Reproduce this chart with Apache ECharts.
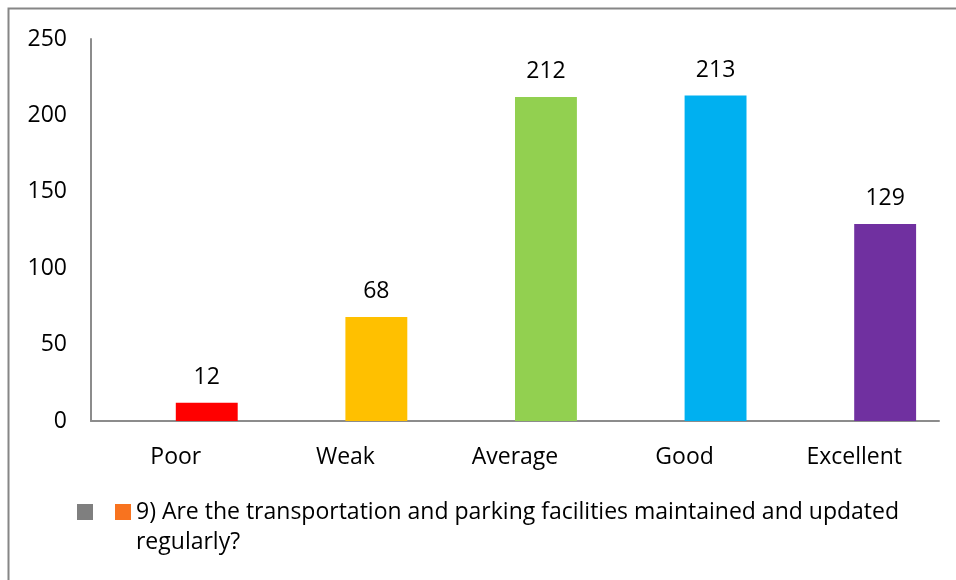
<!DOCTYPE html>
<html><head><meta charset="utf-8">
<script src="https://cdn.jsdelivr.net/npm/echarts@6/dist/echarts.min.js"></script>
<style>html,body{margin:0;padding:0;background:#fff}#c{width:956px;height:580px}</style>
</head><body><div id="c"></div>
<script>
const categories = ['Poor', 'Weak', 'Average', 'Good', 'Excellent'];
const values = [12, 68, 212, 213, 129];
const barColors = ['#FF0000', '#FFC000', '#92D050', '#00B0F0', '#7030A0'];
const seriesName = '9) Are the transportation and parking facilities maintained and updated regularly?';
const yTicks = { min: 0, max: 250, interval: 50 };

const FONT = 'Open Sans';
const FS = 23;
const chart = echarts.init(document.getElementById('c'));
chart.setOption({
  animation: false,
  textStyle: { fontFamily: FONT },
  graphic: [{
    type: 'rect', shape: { x: 8.5, y: 8.5, width: 1200, height: 1200 },
    style: { fill: 'none', stroke: '#868686', lineWidth: 2 }, silent: true
  }],
  grid: { left: 91, right: 17, top: 39, bottom: 159, containLabel: false },
  xAxis: {
    type: 'category', data: categories,
    axisLine: { lineStyle: { color: '#8c8c8c', width: 2 } },
    axisTick: { show: false },
    axisLabel: { color: '#000', fontSize: FS, fontFamily: FONT, margin: 25 }
  },
  yAxis: {
    type: 'value', min: yTicks.min, max: yTicks.max, interval: yTicks.interval,
    axisLine: { show: true, lineStyle: { color: '#8c8c8c', width: 2 } },
    axisTick: { show: false },
    splitLine: { show: false },
    axisLabel: { color: '#000', fontSize: FS, fontFamily: FONT, margin: 24 }
  },
  legend: {
    left: 77, right: 0, top: 467, padding: 0,
    itemWidth: 16, itemHeight: 16, itemGap: 11, itemTextGap: 6,
    icon: 'rect',
    formatter: name => (name.trim() ? '\n' + name : name),
    textStyle: { color: '#000', fontSize: FS, fontFamily: FONT, lineHeight: 30 },
    data: [
      { name: ' ' },
      { name: seriesName, textStyle: { color: '#000', fontSize: FS, fontFamily: FONT, lineHeight: 30, width: 775, overflow: 'break' } }
    ]
  },
  series: [
    { name: ' ', type: 'bar', itemStyle: { color: '#7f7f7f' }, data: categories.map(() => null), barGap: 0, barCategoryGap: '27%' },
    {
      name: seriesName, type: 'bar', barGap: 0, barCategoryGap: '27%',
      itemStyle: { color: '#F8731F' },
      data: values.map((v, i) => ({ value: v, itemStyle: { color: barColors[i] } })),
      label: { show: true, position: 'top', distance: 14, color: '#000', fontSize: FS, fontFamily: FONT }
    }
  ]
});
</script></body></html>
